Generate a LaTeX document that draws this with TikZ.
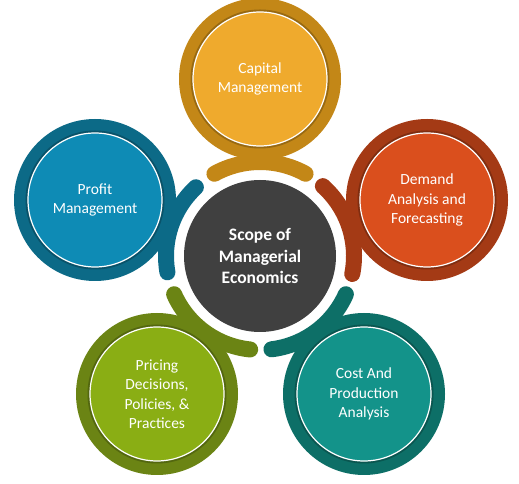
\documentclass[tikz,border=0pt]{standalone}
\usepackage{fontspec}
\setmainfont{Carlito}
\usetikzlibrary{positioning}
\definecolor{capFill}{HTML}{EFAA2D}
\definecolor{capRing}{HTML}{C38717}
\definecolor{demFill}{HTML}{DA4F1D}
\definecolor{demRing}{HTML}{A43A15}
\definecolor{costFill}{HTML}{13938A}
\definecolor{costRing}{HTML}{0D6F67}
\definecolor{priFill}{HTML}{8AAE14}
\definecolor{priRing}{HTML}{6B8414}
\definecolor{proFill}{HTML}{0E8BB5}
\definecolor{proRing}{HTML}{0C6A87}
\definecolor{hubGray}{HTML}{404040}

\begin{document}
\begin{tikzpicture}[x=1pt, y=1pt,
      ringc/.style={circle, minimum size=162pt, inner sep=0pt},
      core/.style={circle, draw=white, line width=1.2pt, minimum size=134pt,
                   inner sep=0pt, text=white, align=center,
                   preaction={draw=black, draw opacity=.22, line width=5pt},
                   font=\fontsize{15.5}{19.5}\selectfont},
      hubc/.style={circle, fill=hubGray, minimum size=152pt, inner sep=0pt,
                   text=white, align=center,
                   font=\bfseries\fontsize{17.5}{21.5}\selectfont},
      band/.style={line width=16pt, line cap=round}]
    \useasboundingbox (0,0) rectangle (519,484);
    \node[hubc] (hub) at (260,228) {Scope of\\Managerial\\Economics};
    \draw[band, capRing]  ([shift={(61:94)}]hub.center)   arc[start angle=61, end angle=119, radius=94];
    \draw[band, demRing]  ([shift={(-11:94)}]hub.center)  arc[start angle=-11, end angle=48, radius=94];
    \draw[band, costRing] ([shift={(-83:94)}]hub.center)  arc[start angle=-83, end angle=-24, radius=94];
    \draw[band, priRing]  ([shift={(204:94)}]hub.center)  arc[start angle=204, end angle=264, radius=94];
    \draw[band, proRing]  ([shift={(133:94)}]hub.center)  arc[start angle=133, end angle=190, radius=94];
    \node[ringc, fill=capRing]  (capR)  at (260,405) {};
    \node[ringc, fill=demRing]  (demR)  at (427,284) {};
    \node[ringc, fill=costRing] (costR) at (364,90)  {};
    \node[ringc, fill=priRing]  (priR)  at (157,90)  {};
    \node[ringc, fill=proRing]  (proR)  at (95,284)  {};
    \node[core, fill=capFill]  (cap)  at (capR)  {Capital\\Management};
    \node[core, fill=demFill]  (dem)  at (demR)  {Demand\\Analysis and\\Forecasting};
    \node[core, fill=costFill] (cost) at (costR) {Cost And\\Production\\Analysis};
    \node[core, fill=priFill]  (pri)  at (priR)  {Pricing\\Decisions,\\Policies, \&\\Practices};
    \node[core, fill=proFill]  (pro)  at (proR)  {Profit\\Management};
  \end{tikzpicture}
\end{document}
